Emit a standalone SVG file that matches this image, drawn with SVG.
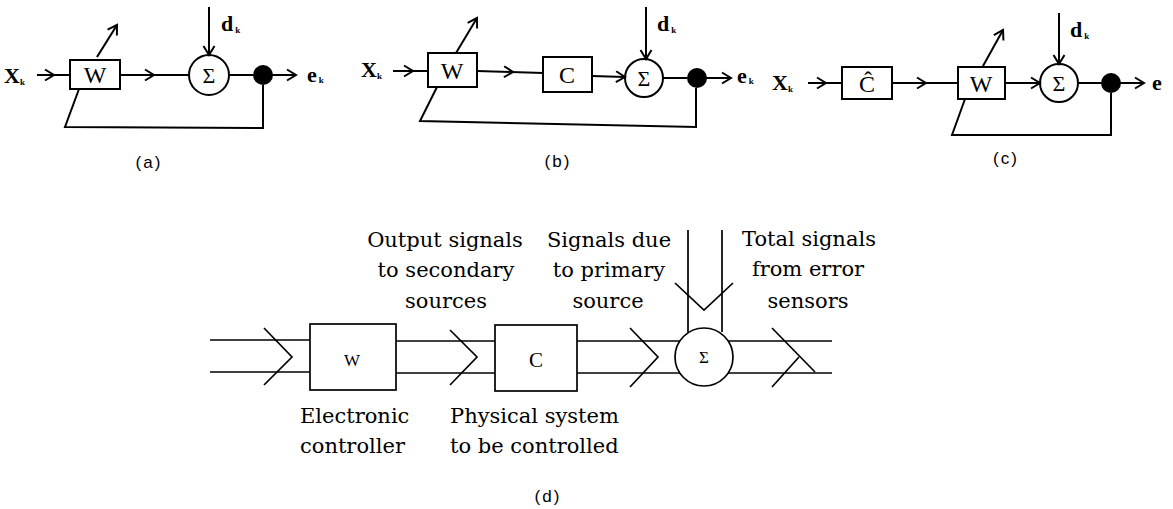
<svg xmlns="http://www.w3.org/2000/svg" width="1173" height="509" viewBox="0 0 1173 509">
<defs>
<marker id="ah" markerUnits="userSpaceOnUse" markerWidth="14" markerHeight="14" refX="11" refY="7" orient="auto">
<path d="M2,1.5 L11,7 L2,12.5" fill="none" stroke="#000" stroke-width="2"/>
</marker>
<style>
.ln{stroke:#000;stroke-width:2;fill:none}
.ar{stroke:#000;stroke-width:2;fill:none;marker-end:url(#ah)}
.bx{stroke:#000;stroke-width:2;fill:#fff}
.dl{stroke:#000;stroke-width:1.7;fill:none}
.dbx{stroke:#000;stroke-width:1.7;fill:#fff}
.sym{font-family:"Liberation Serif",serif;font-size:24px;text-anchor:middle;fill:#000}
.sig{font-family:"Liberation Serif",serif;font-size:22px;text-anchor:middle;fill:#000}
.var{font-family:"Liberation Serif",serif;font-size:22px;fill:#000;font-weight:bold}
.sub{font-size:9px}
.cap{font-family:"Liberation Sans",sans-serif;font-size:17px;text-anchor:middle;fill:#000;letter-spacing:2px}
.lab{font-family:"DejaVu Serif",serif;font-size:21px;fill:#000}
.mid{text-anchor:middle}
</style>
</defs>
<rect width="1173" height="509" fill="#fff"/>

<!-- Panel (a) -->
<g id="a_W"><rect class="bx" x="70" y="60" width="50" height="29"/><text class="sym" x="95" y="83">W</text></g>
<g id="a_sum"><circle class="bx" cx="209" cy="75" r="20"/><text class="sig" x="209" y="83">Σ</text></g>
<g id="a_dot"><circle cx="263" cy="75" r="10" fill="#000"/></g>
<g id="a_labels">
<text class="var" x="4" y="83">X<tspan class="sub" dy="2">k</tspan></text>
<text class="var" x="221" y="31">d<tspan class="sub" dx="2" dy="2">k</tspan></text>
<text class="var" x="307" y="82">e<tspan class="sub" dx="2" dy="1">k</tspan></text>
<text class="cap" x="149" y="168">(a)</text>
</g>
<g id="a_connectors">
<line class="ar" x1="37" y1="75" x2="54" y2="75"/><line class="ln" x1="52" y1="75" x2="70" y2="75"/>
<line class="ar" x1="97" y1="57" x2="117" y2="25"/>
<line class="ar" x1="120" y1="75" x2="154" y2="75"/><line class="ln" x1="152" y1="75" x2="189" y2="75"/>
<line class="ar" x1="209" y1="7" x2="209" y2="55"/>
<line class="ln" x1="229" y1="75" x2="253" y2="75"/>
<line class="ar" x1="272" y1="75" x2="296" y2="75"/>
<polyline class="ln" points="263,85 263,128 65,127 79,89"/>
</g>

<!-- Panel (b) -->
<g id="b_W"><rect class="bx" x="428" y="53" width="49" height="34"/><text class="sym" x="452" y="79">W</text></g>
<g id="b_C"><rect class="bx" x="543" y="57" width="49" height="35"/><text class="sym" x="567" y="83">C</text></g>
<g id="b_sum"><circle class="bx" cx="644" cy="78" r="19"/><text class="sig" x="644" y="86">Σ</text></g>
<g id="b_dot"><circle cx="697" cy="78" r="10" fill="#000"/></g>
<g id="b_labels">
<text class="var" x="361" y="77">X<tspan class="sub" dy="2">k</tspan></text>
<text class="var" x="657" y="31">d<tspan class="sub" dx="2" dy="2">k</tspan></text>
<text class="var" x="737" y="83">e<tspan class="sub" dx="2" dy="1">k</tspan></text>
<text class="cap" x="558" y="167">(b)</text>
</g>
<g id="b_connectors">
<line class="ar" x1="393" y1="71" x2="413" y2="71"/><line class="ln" x1="411" y1="71" x2="428" y2="71"/>
<line class="ar" x1="456" y1="53" x2="477" y2="18"/>
<line class="ar" x1="477" y1="71" x2="513" y2="72"/><line class="ln" x1="511" y1="72" x2="543" y2="73"/>
<line class="ar" x1="592" y1="76" x2="625" y2="77"/>
<line class="ar" x1="646" y1="7" x2="646" y2="59"/>
<line class="ln" x1="663" y1="78" x2="687" y2="78"/>
<line class="ar" x1="706" y1="78" x2="731" y2="78"/>
<polyline class="ln" points="696,88 696,127 420,121 437,87"/>
</g>

<!-- Panel (c) -->
<g id="c_Chat"><rect class="bx" x="842" y="67" width="50" height="32"/><text class="sym" x="867" y="92">Ĉ</text></g>
<g id="c_W"><rect class="bx" x="958" y="67" width="47" height="32"/><text class="sym" x="981" y="92">W</text></g>
<g id="c_sum"><circle class="bx" cx="1059" cy="83" r="19"/><text class="sig" x="1059" y="91">Σ</text></g>
<g id="c_dot"><circle cx="1111" cy="83" r="10" fill="#000"/></g>
<g id="c_labels">
<text class="var" x="772" y="90">X<tspan class="sub" dy="2">k</tspan></text>
<text class="var" x="1070" y="37">d<tspan class="sub" dx="2" dy="2">k</tspan></text>
<text class="var" x="1152" y="90">e</text>
<text class="cap" x="1006" y="164">(c)</text>
</g>
<g id="c_connectors">
<line class="ar" x1="808" y1="83" x2="826" y2="83"/><line class="ln" x1="824" y1="83" x2="842" y2="83"/>
<line class="ar" x1="892" y1="83" x2="926" y2="83"/><line class="ln" x1="924" y1="83" x2="958" y2="83"/>
<line class="ar" x1="983" y1="66" x2="1003" y2="30"/>
<line class="ar" x1="1005" y1="83" x2="1040" y2="83"/>
<line class="ar" x1="1059" y1="13" x2="1059" y2="64"/>
<line class="ln" x1="1078" y1="83" x2="1101" y2="83"/>
<line class="ar" x1="1120" y1="83" x2="1144" y2="83"/>
<polyline class="ln" points="1111,93 1111,135 952,135 965,99"/>
</g>

<!-- Panel (d) -->
<g id="d_W"><rect class="dbx" x="310" y="324" width="86" height="66"/><text class="sym" x="352" y="366" style="font-size:17px">W</text></g>
<g id="d_C"><rect class="dbx" x="495" y="325" width="82" height="66"/><text class="sym" x="536" y="367" style="font-size:21px">C</text></g>
<g id="d_sum"><circle class="dbx" cx="704" cy="357" r="29"/><text class="sig" x="704" y="363" style="font-size:17px">Σ</text></g>
<g id="d_connectors">
<line class="dl" x1="210" y1="340" x2="310" y2="340"/><line class="dl" x1="210" y1="372" x2="310" y2="372"/>
<polyline class="dl" points="264,328 292,357 264,385"/>
<line class="dl" x1="396" y1="341" x2="495" y2="341"/><line class="dl" x1="396" y1="373" x2="495" y2="373"/>
<polyline class="dl" points="450,330 477,357 450,385"/>
<line class="dl" x1="577" y1="341" x2="680" y2="341"/><line class="dl" x1="577" y1="373" x2="680" y2="373"/>
<polyline class="dl" points="630,328 658,357 630,387"/>
<line class="dl" x1="688" y1="230" x2="688" y2="332"/><line class="dl" x1="722" y1="230" x2="722" y2="332"/>
<polyline class="dl" points="675,283 704,310 733,283"/>
<line class="dl" x1="728" y1="341" x2="832" y2="341"/><line class="dl" x1="728" y1="373" x2="832" y2="373"/>
<line class="dl" x1="772" y1="328" x2="815" y2="372"/>
<line class="dl" x1="799" y1="357" x2="772" y2="387"/>
</g>
<g id="d_labels">
<text class="lab mid" x="445" y="247">Output signals</text>
<text class="lab mid" x="446" y="277">to secondary</text>
<text class="lab mid" x="446" y="308">sources</text>
<text class="lab mid" x="609" y="247">Signals due</text>
<text class="lab mid" x="609" y="277">to primary</text>
<text class="lab mid" x="608" y="308">source</text>
<text class="lab mid" x="809" y="246">Total signals</text>
<text class="lab mid" x="808" y="276">from error</text>
<text class="lab mid" x="808" y="308">sensors</text>
<text class="lab" x="300" y="423">Electronic</text>
<text class="lab" x="300" y="453">controller</text>
<text class="lab" x="450" y="423">Physical system</text>
<text class="lab" x="450" y="453">to be controlled</text>
<text class="cap" x="548" y="502">(d)</text>
</g>
</svg>
